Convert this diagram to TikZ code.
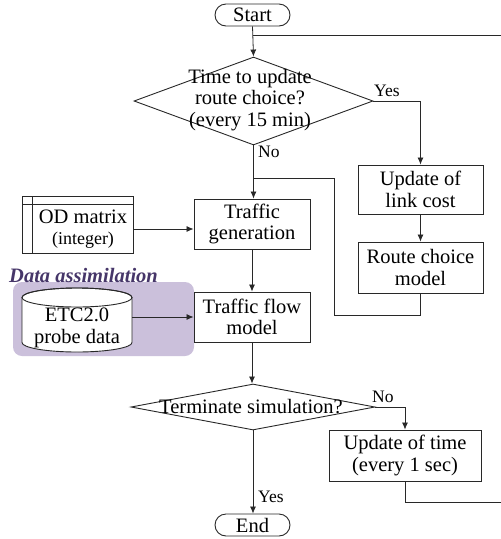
\documentclass[tikz,border=0pt]{standalone}
\usepackage{fontspec}
\setmainfont{Liberation Serif}
\usetikzlibrary{shapes.geometric,arrows.meta}
\definecolor{lnc}{RGB}{40,40,40}
\definecolor{dafill}{RGB}{203,192,219}
\definecolor{datext}{RGB}{70,54,105}
\tikzset{
  base/.style={font=\fontsize{20.5}{21.5}\selectfont, align=center, inner sep=0pt},
  procbox/.style={base, draw=lnc, line width=0.9pt, fill=white},
  term/.style={base, draw=lnc, line width=0.9pt, rounded corners=11pt, minimum width=75pt, minimum height=22pt},
  decis/.style={diamond, draw=lnc, line width=0.9pt, inner sep=0pt},
  txt/.style={base},
  lbl/.style={font=\fontsize{17.5}{19}\selectfont, inner sep=0pt},
  conn/.style={draw=lnc, line width=0.8pt},
  arr/.style={conn, -{Latex[length=7pt,width=6pt]}}
}
\begin{document}
\begin{tikzpicture}[x=1pt,y=-1pt]
\useasboundingbox (0,0) rectangle (501,539);

% data assimilation background
\fill[dafill, rounded corners=9pt] (13,282) rectangle (194,356);
\node[base, font=\fontsize{20.5}{21.5}\selectfont\bfseries\itshape, text=datext, anchor=west] (dalbl) at (9,275) {Data assimilation};

% terminals
\node[term] (start) at (252.5,15) {Start};
\node[term] (end) at (252.5,525) {End};

% decision 1
\node[decis, minimum width=239pt, minimum height=88pt] (d1) at (253.5,101) {};
\node[txt] (d1t) at (250,100) {Time to update\\route choice?\\(every 15 min)};

% right branch
\node[procbox, minimum width=125pt, minimum height=49pt] (link) at (420.5,189.5) {Update of\\link cost};
\node[procbox, minimum width=125pt, minimum height=51pt] (route) at (420.5,267.5) {Route choice\\model};

% main column
\node[procbox, minimum width=116pt, minimum height=50pt] (gen) at (252,224) {Traffic\\generation};
\node[procbox, minimum width=116pt, minimum height=50pt] (flow) at (252,317) {Traffic flow\\model};

% OD matrix
\node[base, minimum width=100pt, minimum height=48pt] (od) at (83,229) {OD matrix\\{\fontsize{18}{20}\selectfont (integer)}};
\draw[lnc, line width=0.9pt] ([shift={(-10pt,8pt)}]od.north west) rectangle (od.south east);
\draw[lnc, line width=0.8pt] ([yshift=8pt]od.north west) -- (od.south west);
\draw[lnc, line width=0.8pt] ([xshift=-10pt]od.north west) -- (od.north east);

% cylinder
\coordinate (cylc) at (77,320);
\draw[lnc, line width=0.9pt, fill=white] ([shift={(-55pt,22.5pt)}]cylc) -- ([shift={(-55pt,-22.5pt)}]cylc)
   arc[start angle=180, end angle=360, x radius=55pt, y radius=9.5pt]
   -- ([shift={(55pt,22.5pt)}]cylc)
   arc[start angle=0, end angle=180, x radius=55pt, y radius=9.5pt] -- cycle;
\draw[lnc, line width=0.9pt] ([shift={(0pt,22.5pt)}]cylc) ellipse[x radius=55pt, y radius=9.5pt];
\node[base, minimum width=110pt, minimum height=64pt] (cyl) at (77,328) {ETC2.0\\probe data};

% decision 2
\node[decis, minimum width=244pt, minimum height=46pt] (d2) at (253,407) {};
\node[txt] (d2t) at (251,407) {Terminate simulation?};

\node[procbox, minimum width=152pt, minimum height=51pt] (time) at (405,455.5) {Update of time\\(every 1 sec)};

% coordinates
\coordinate (rtop) at (501,35);
\coordinate (rbot) at (501,502);
\coordinate (j1) at (253,178);
\coordinate (j2) at (334,315);

% connectors
\draw[arr] (start.south) -- (d1.north);
\draw[conn] (rtop) -- (start.south |- rtop);
\draw[arr] (d1.east) -| (link.north);
\node[lbl, anchor=south west] (yes1) at (374,97) {Yes};
\draw[arr] (d1.south) -- (d1.south |- gen.north);
\node[lbl, anchor=north west] (no1) at (258,146) {No};
\draw[arr] (link.south) -- (route.south |- route.north);
\draw[conn] (route.south) |- (j2) |- (j1);
\draw[arr] (od.east) -- (gen.west |- od.east);
\draw[arr] (gen.south) -- (flow.north);
\draw[arr] (cyl.east |- flow.west) -- (flow.west);
\draw[arr] (flow.south) -- (flow.south |- d2.north);
\draw[arr] (d2.east) -| (time.north);
\node[lbl, anchor=south west] (no2) at (372,403) {No};
\draw[arr] (d2.south) -- (d2.south |- end.north);
\node[lbl, anchor=west] (yes2) at (258,497) {Yes};
\draw[conn] (time.south) |- (rbot);
\end{tikzpicture}
\end{document}
